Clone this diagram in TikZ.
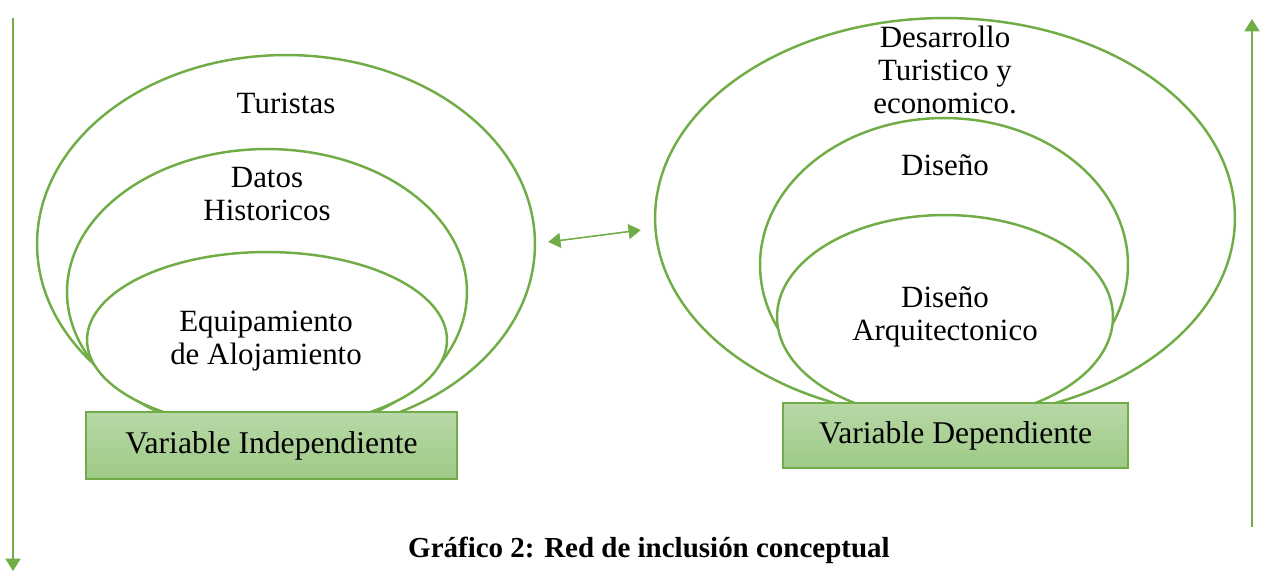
\documentclass[tikz,border=0pt]{standalone}
\usepackage{fontspec}
\setmainfont{Liberation Serif}
\usepackage{xcolor}
\usepackage{tikz}
\usetikzlibrary{shapes,positioning,calc,arrows.meta}
\definecolor{lgreen}{HTML}{70AD47}
\definecolor{boxtop}{RGB}{184,216,167}
\definecolor{boxbot}{RGB}{158,202,134}

\begin{document}
\begin{tikzpicture}[x=0.02cm, y=-0.02cm,
    ring/.style={draw=lgreen, fill=white, line width=1.4pt, ellipse, inner sep=0pt},
    varbox/.style={draw=lgreen, line width=0.9pt, rectangle, top color=boxtop, bottom color=boxbot, inner sep=0pt, font=\fontsize{18}{19}\selectfont},
    lbl/.style={align=center, font=\fontsize{17.6}{18.6}\selectfont, inner sep=0pt},
    tip/.style={-{Triangle[length=7pt, width=8.5pt]}, draw=lgreen, fill=lgreen, line width=1.1pt}]
    \useasboundingbox (0,0) rectangle (1264,572);

    % Left group
    \node [ring, minimum width=9.96cm, minimum height=7.56cm] (lout) at (286,244) {};
    \node [ring, minimum width=8cm, minimum height=5.72cm] (lmid) at (267,292) {};
    \node [ring, minimum width=7.2cm, minimum height=3.52cm] (lin) at (267,340) {};
    \node [lbl] (tur) at (286,103) {Turistas};
    \node [lbl] (dat) at (267,194) {Datos\\Historicos};
    \node [lbl] (equ) at (266,341) {Equipamiento\\de Alojamiento};
    \node [varbox, minimum width=7.42cm, minimum height=1.34cm] (vind) at (271.5,445.5) {Variable Independiente};

    % Right group
    \node [ring, minimum width=11.6cm, minimum height=8cm] (rout) at (945,218) {};
    \node [ring, minimum width=7.36cm, minimum height=5.88cm] (rmid) at (944,265) {};
    \node [ring, minimum width=6.72cm, minimum height=4.08cm] (rin) at (945,317) {};
    \node [lbl] (des) at (945,70) {Desarrollo\\Turistico y\\economico.};
    \node [lbl] (dis) at (945,165) {Diseño};
    \node [lbl] (arq) at (945,317) {Diseño\\Arquitectonico};
    \node [varbox, minimum width=6.9cm, minimum height=1.3cm] (vdep) at (955.5,435.5) {Variable Dependiente};

    % Connections
    \coordinate (dl) at ($(lout.east)+(12,-2)$);
    \coordinate (dr) at ($(rout.west)+(-13,12)$);
    \draw [tip, {Triangle[length=7pt, width=8.5pt]}-{Triangle[length=7pt, width=8.5pt]}, line width=0.9pt] (dl) -- (dr);

    \coordinate (ltop) at (13,18);
    \coordinate (lbot) at (13,571);
    \coordinate (rbot) at (1252,527);
    \coordinate (rtop) at (1252,19);
    \draw [tip] (ltop) -- (lbot);
    \draw [tip] (rbot) -- (rtop);

    \node [font=\fontsize{16.5}{18}\selectfont\bfseries, inner sep=0pt] (cap) at (649,550) {Gráfico 2: Red de inclusión conceptual};
\end{tikzpicture}
\end{document}
